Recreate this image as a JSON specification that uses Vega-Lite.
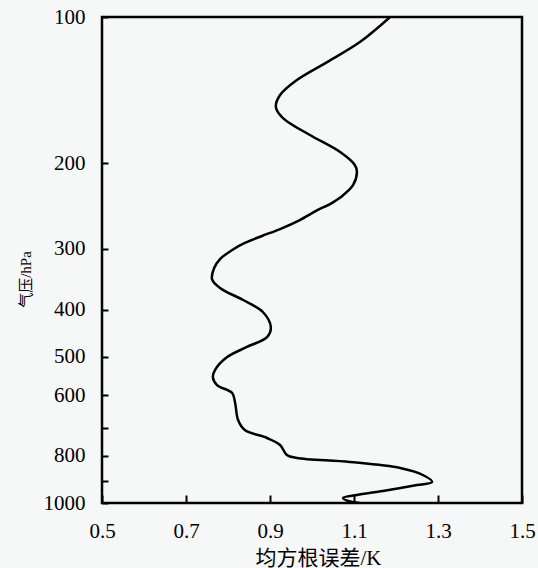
{
  "$schema": "https://vega.github.io/schema/vega-lite/v6.json",
  "autosize": {"type": "none"},
  "padding": {"left": 102, "top": 17, "right": 16, "bottom": 65},
  "width": 420,
  "height": 486,
  "background": "#f6f7f7",
  "config": {
    "view": {"stroke": "black", "strokeWidth": 2.5},
    "axis": {"grid": false, "domain": false, "tickColor": "black", "tickWidth": 2, "labelColor": "black", "titleColor": "black", "labelFont": "Liberation Serif", "titleFontWeight": "normal", "labelFlush": false}
  },
  "data": {"values": [
    {"i": 1, "x": 1.186, "p": 100},
    {"i": 2, "x": 1.114, "p": 112.6},
    {"i": 3, "x": 1.036, "p": 123.8},
    {"i": 4, "x": 0.964, "p": 134.8},
    {"i": 5, "x": 0.924, "p": 144.7},
    {"i": 6, "x": 0.914, "p": 153.2},
    {"i": 7, "x": 0.931, "p": 161.4},
    {"i": 8, "x": 0.995, "p": 174.9},
    {"i": 9, "x": 1.067, "p": 189.6},
    {"i": 10, "x": 1.102, "p": 201.6},
    {"i": 11, "x": 1.107, "p": 208.4},
    {"i": 12, "x": 1.098, "p": 221.6},
    {"i": 13, "x": 1.069, "p": 234.6},
    {"i": 14, "x": 1.043, "p": 242.6},
    {"i": 15, "x": 1.014, "p": 249.5},
    {"i": 16, "x": 0.971, "p": 261.7},
    {"i": 17, "x": 0.924, "p": 273.1},
    {"i": 18, "x": 0.881, "p": 282.2},
    {"i": 19, "x": 0.840, "p": 291.7},
    {"i": 20, "x": 0.810, "p": 301.6},
    {"i": 21, "x": 0.781, "p": 314.8},
    {"i": 22, "x": 0.767, "p": 328.5},
    {"i": 23, "x": 0.762, "p": 346.1},
    {"i": 24, "x": 0.781, "p": 361.1},
    {"i": 25, "x": 0.836, "p": 382.2},
    {"i": 26, "x": 0.883, "p": 404.6},
    {"i": 27, "x": 0.902, "p": 434.5},
    {"i": 28, "x": 0.893, "p": 455.6},
    {"i": 29, "x": 0.845, "p": 477.5},
    {"i": 30, "x": 0.798, "p": 500.9},
    {"i": 31, "x": 0.769, "p": 532.6},
    {"i": 32, "x": 0.764, "p": 550.5},
    {"i": 33, "x": 0.774, "p": 571.8},
    {"i": 34, "x": 0.810, "p": 593.9},
    {"i": 35, "x": 0.817, "p": 622.6},
    {"i": 36, "x": 0.824, "p": 674.9},
    {"i": 37, "x": 0.840, "p": 707.6},
    {"i": 38, "x": 0.893, "p": 734.9},
    {"i": 39, "x": 0.924, "p": 759.6},
    {"i": 40, "x": 0.940, "p": 796.4},
    {"i": 41, "x": 0.964, "p": 807.9},
    {"i": 42, "x": 1.090, "p": 823.3},
    {"i": 43, "x": 1.210, "p": 847.2},
    {"i": 44, "x": 1.264, "p": 875.8},
    {"i": 45, "x": 1.286, "p": 905.3},
    {"i": 46, "x": 1.250, "p": 918.3},
    {"i": 47, "x": 1.169, "p": 944.7},
    {"i": 48, "x": 1.107, "p": 962.8},
    {"i": 49, "x": 1.074, "p": 976.5},
    {"i": 50, "x": 1.086, "p": 990.6},
    {"i": 51, "x": 1.114, "p": 1000}
  ]},
  "mark": {"type": "line", "color": "black", "strokeWidth": 2.5, "interpolate": "catmull-rom", "clip": true},
  "encoding": {
    "order": {"field": "i", "type": "quantitative"},
    "x": {
      "field": "x", "type": "quantitative",
      "scale": {"domain": [0.5, 1.5], "nice": false, "zero": false},
      "axis": {
        "values": [0.5, 0.7, 0.9, 1.1, 1.3, 1.5], "format": ".1f",
        "offset": -8, "tickSize": 8, "labelPadding": 17, "labelFontSize": 21,
        "title": "均方根误差/K", "titleFont": "Liberation Serif, Noto Sans CJK SC", "titleFontSize": 21,
        "titleX": 216, "titleY": 63, "titleBaseline": "middle"
      }
    },
    "y": {
      "field": "p", "type": "quantitative",
      "scale": {"type": "log", "domain": [100, 1000], "reverse": true, "nice": false},
      "axis": {
        "values": [100, 200, 300, 400, 500, 600, 700, 800, 900, 1000],
        "labelExpr": "datum.value == 700 || datum.value == 900 ? '' : format(datum.value, 'd')",
        "offset": -6, "tickSize": 6, "labelPadding": 17, "labelFontSize": 21,
        "title": "气压/hPa", "titleFont": "Liberation Serif, Noto Sans CJK SC", "titleFontSize": 15,
        "titleX": -83, "titleY": 262, "titleBaseline": "middle", "titleAngle": 270
      }
    }
  }
}
